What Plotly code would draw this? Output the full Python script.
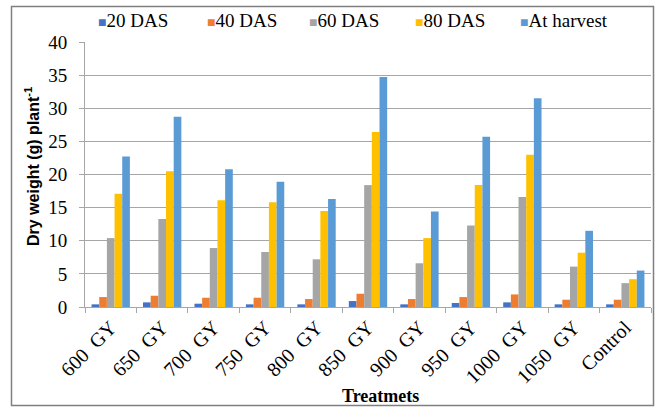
import plotly.graph_objects as go

categories = ["600  GY", "650  GY", "700  GY", "750  GY", "800  GY", "850  GY",
              "900  GY", "950  GY", "1000  GY", "1050  GY", "Control"]
das20 = [0.4, 0.7, 0.5, 0.4, 0.4, 0.9, 0.4, 0.6, 0.7, 0.4, 0.4]
das40 = [1.5, 1.7, 1.4, 1.4, 1.2, 2.0, 1.2, 1.5, 1.9, 1.1, 1.1]
das60 = [10.4, 13.3, 8.9, 8.3, 7.2, 18.4, 6.6, 12.3, 16.6, 6.1, 3.6]
das80 = [17.1, 20.5, 16.1, 15.8, 14.5, 26.4, 10.4, 18.4, 23.0, 8.2, 4.2]
harvest = [22.7, 28.7, 20.8, 18.9, 16.3, 34.7, 14.4, 25.7, 31.5, 11.5, 5.5]

series_names = ["20 DAS", "40 DAS", "60 DAS", "80 DAS", "At harvest"]
series_values = [das20, das40, das60, das80, harvest]
series_colors = ["#4472C4", "#ED7D31", "#A5A5A5", "#FFC000", "#5B9BD5"]

SERIF = "Liberation Serif, Times New Roman, serif"
SANS = "Liberation Sans, Arial, sans-serif"

# page geometry (pixels)
W, H = 661, 407
ml, mr, mt, mb = 85, 10, 42, 100
pw, ph = W - ml - mr, H - mt - mb


def px_x(p):
    return (p - ml) / pw


def px_y(p):
    return (H - mb - p) / ph


fig = go.Figure()
for name, vals, col in zip(series_names, series_values, series_colors):
    fig.add_trace(go.Bar(x=categories, y=vals, name=name, marker_color=col,
                         marker_line_width=0, showlegend=False))

# legend drawn as text entries (Excel style: small square + label)
legend_left = [98, 207, 309, 415, 520]
annotations = []
for name, col, lx in zip(series_names, series_colors, legend_left):
    annotations.append(dict(
        xref="paper", yref="paper", x=px_x(lx - 2), y=px_y(20),
        xanchor="left", yanchor="middle", showarrow=False,
        text=f"<span style='color:{col};font-size:14px'>■</span>{name}",
        font=dict(family=SERIF, size=19, color="black")))

annotations.append(dict(
    xref="paper", yref="paper", x=px_x(380), y=px_y(396),
    xanchor="center", yanchor="middle", showarrow=False,
    text="<b>Treatmets</b>", font=dict(family=SERIF, size=18, color="black")))
annotations.append(dict(
    xref="paper", yref="paper", x=px_x(32), y=px_y(167),
    xanchor="center", yanchor="middle", showarrow=False, textangle=-90,
    text="<b>Dry weight (g) plant<sup>-1</sup></b>",
    font=dict(family=SANS, size=16, color="black")))

fig.update_layout(
    width=W, height=H,
    margin=dict(l=ml, r=mr, t=mt, b=mb, autoexpand=False),
    paper_bgcolor="white", plot_bgcolor="white",
    barmode="group", bargap=0.255, bargroupgap=0,
    font=dict(family=SERIF, size=19, color="black"),
    xaxis=dict(tickangle=-45, ticks="outside", tickson="boundaries", ticklen=5,
               tickcolor="#A6A6A6", showline=True, linecolor="#A6A6A6",
               tickfont=dict(family=SERIF, size=20)),
    yaxis=dict(range=[0, 40], dtick=5, showgrid=True, gridcolor="#A6A6A6",
               showline=True, linecolor="#A6A6A6", ticks="outside", ticklen=5,
               tickcolor="#A6A6A6", zeroline=False, ticklabelstandoff=8,
               tickfont=dict(family=SERIF, size=19)),
    annotations=annotations,
    shapes=[dict(type="rect", xref="paper", yref="paper",
                 x0=px_x(11.5), x1=px_x(653.5), y0=px_y(405.5), y1=px_y(6.5),
                 line=dict(color="#7F7F7F", width=1.5), fillcolor="rgba(0,0,0,0)",
                 layer="below")],
)

fig.write_html("out.html", config={"displayModeBar": False},
               post_script="document.body.style.margin='0px';document.body.style.padding='0px';")
